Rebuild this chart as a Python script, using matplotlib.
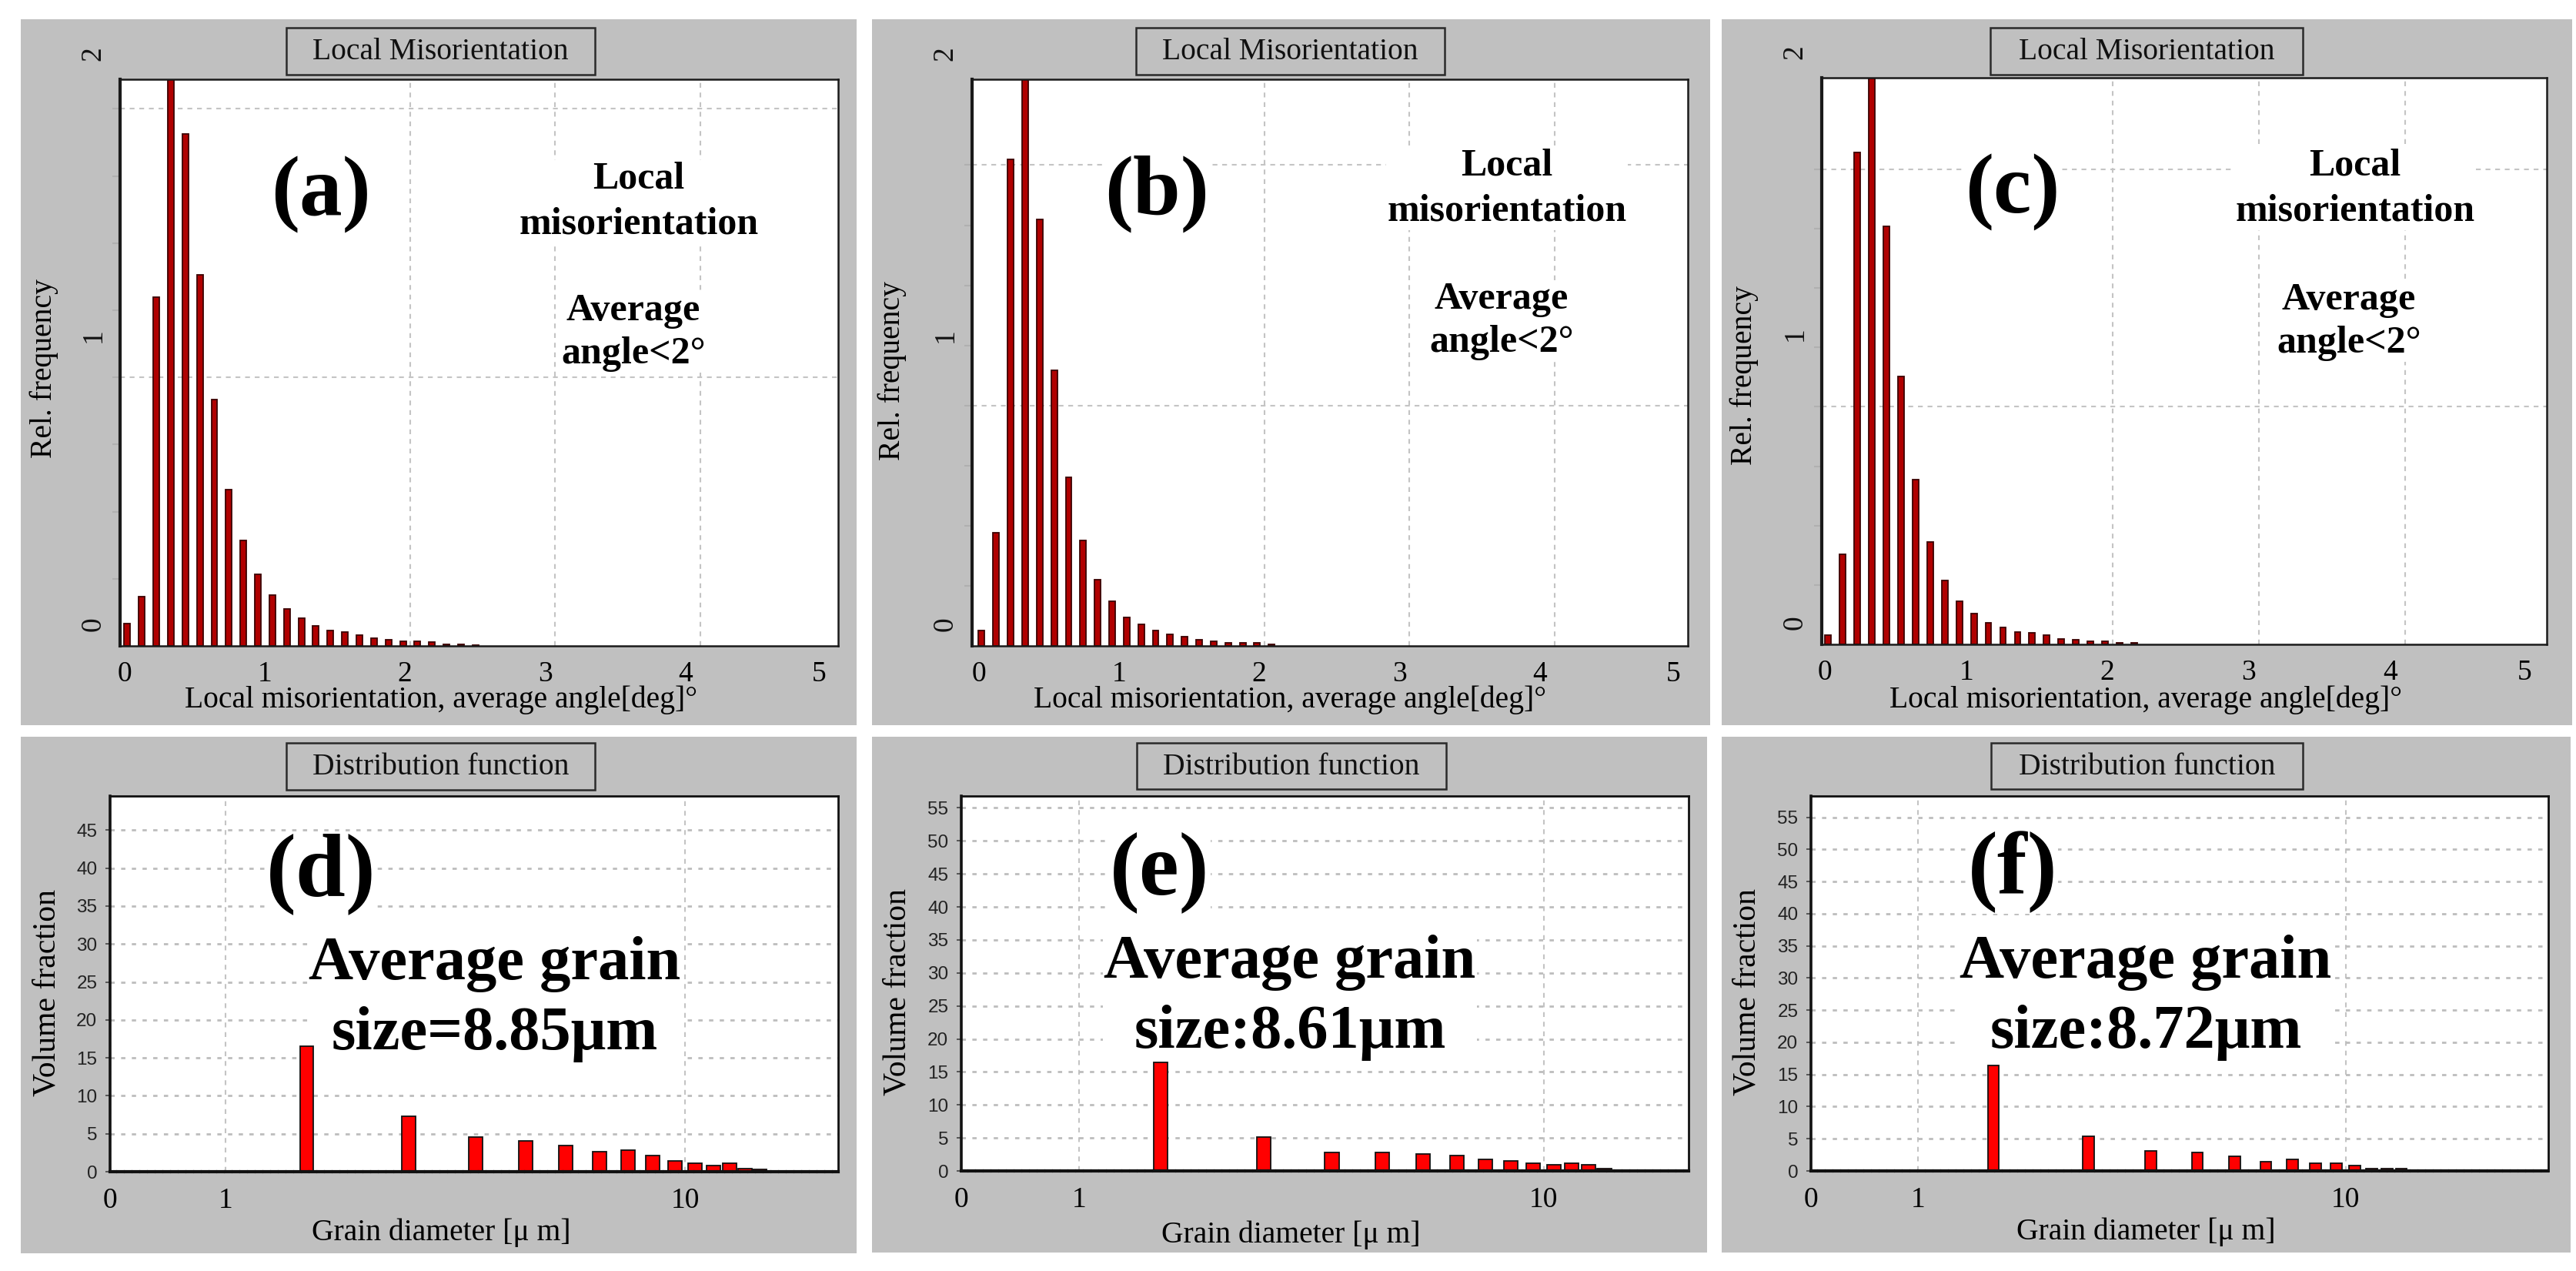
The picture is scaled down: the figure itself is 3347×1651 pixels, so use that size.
import numpy as np
import matplotlib
matplotlib.use("Agg")
import matplotlib.pyplot as plt
from matplotlib.patches import Rectangle
from matplotlib.ticker import FixedLocator, NullLocator

# ---------------- data ----------------
MIS_BINS = [0.05, 0.15, 0.25, 0.35, 0.45, 0.55, 0.65, 0.75, 0.85, 0.95,
            1.05, 1.15, 1.25, 1.35, 1.45, 1.55, 1.65, 1.75, 1.85, 1.95,
            2.05, 2.15, 2.25, 2.35, 2.45]
MIS_A = [0.082, 0.183, 1.30, 2.15, 1.907, 1.383, 0.917, 0.581, 0.393, 0.267,
         0.189, 0.139, 0.103, 0.074, 0.057, 0.053, 0.040, 0.028, 0.023, 0.017,
         0.017, 0.013, 0.006, 0.005, 0.004]
MIS_B = [0.065, 0.471, 2.023, 2.40, 1.775, 1.145, 0.701, 0.438, 0.275, 0.185,
         0.117, 0.090, 0.065, 0.047, 0.039, 0.025, 0.019, 0.014, 0.014, 0.014,
         0.007]
MIS_C = [0.039, 0.380, 2.071, 2.42, 1.760, 1.127, 0.695, 0.430, 0.270, 0.181,
         0.129, 0.091, 0.071, 0.052, 0.047, 0.039, 0.024, 0.019, 0.014, 0.014,
         0.008, 0.008]
MIS_XTICK_LABELS = ["0", "1", "2", "3", "4", "5"]
MIS_YTICK_LABELS = ["0", "1", "2"]
MIS_GRID_X = [1, 2, 3, 4]
MIS_GRID_Y = [1, 2]

DIA_BINS = [1.5, 2.5, 3.5, 4.5, 5.5, 6.5, 7.5, 8.5, 9.5, 10.5, 11.5, 12.5, 13.5, 14.5]
VOL_D = [16.5, 7.27, 4.57, 4.10, 3.40, 2.61, 2.89, 2.14, 1.40, 1.12, 0.84, 1.07, 0.37, 0.28]
VOL_E = [16.4, 5.12, 2.85, 2.85, 2.53, 2.32, 1.74, 1.48, 1.16, 0.90, 1.16, 0.90, 0.37]
VOL_F = [16.4, 5.43, 3.15, 2.88, 2.28, 1.41, 1.74, 1.14, 1.14, 0.87, 0.33, 0.33, 0.33]
VOL_YTICKS_D = [0, 5, 10, 15, 20, 25, 30, 35, 40, 45]
VOL_YTICKS_EF = [0, 5, 10, 15, 20, 25, 30, 35, 40, 45, 50, 55]
DIA_XTICK_LABELS = ["0", "1", "10"]

TOP_LETTERS = ["(a)", "(b)", "(c)"]
BOT_LETTERS = ["(d)", "(e)", "(f)"]
GRAIN_NOTES = ["Average grain\nsize=8.85\u03bcm",
               "Average grain\nsize:8.61\u03bcm",
               "Average grain\nsize:8.72\u03bcm"]

# ---------------- layout (figure pixels) ----------------
W, H, DPI = 3347, 1651, 100
TOP_LAYOUT = [
    dict(panel=(27, 25, 1113, 942), plot=(156, 103, 1089, 839), box=(372, 36, 773, 97),
         xlim=(0.0, 4.95), ymax=2.11, letter=(417, 253), note1=(830, 262), note2=(823, 432),
         ylab=(57, 479), xlab=(573, 909)),
    dict(panel=(1133, 25, 2222, 942), plot=(1263, 103, 2193, 839), box=(1476, 36, 1877, 97),
         xlim=(-0.016, 4.92), ymax=2.357, letter=(1503, 252), note1=(1958, 245), note2=(1951, 417),
         ylab=(1159, 482), xlab=(1676, 909)),
    dict(panel=(2237, 25, 3342, 942), plot=(2367, 101, 3309, 837), box=(2586, 36, 2992, 97),
         xlim=(0.01, 4.97), ymax=2.385, letter=(2615, 250), note1=(3060, 245), note2=(3052, 418),
         ylab=(2266, 488), xlab=(2788, 909)),
]
TOP_XLABEL_POS = [0.03, 1.0, 1.96, 2.93, 3.9, 4.82]
TOP_YLABEL_FRAC = [0.038, 0.548, 1.045]

BOT_LAYOUT = [
    dict(panel=(27, 957, 1113, 1628), plot=(143, 1034, 1089, 1522), box=(372, 965, 773, 1026),
         xlim=(0.56, 21.5), ymax=49.5, bw=0.030, letter=(417, 1135), note=(643, 1298),
         ylab=(61, 1289), xlab=(573, 1601)),
    dict(panel=(1133, 957, 2218, 1627), plot=(1249, 1034, 2194, 1521), box=(1477, 965, 1879, 1025),
         xlim=(0.558, 20.5), ymax=56.8, bw=0.030, letter=(1507, 1133), note=(1676, 1296),
         ylab=(1166, 1288), xlab=(1677, 1604)),
    dict(panel=(2237, 957, 3340, 1627), plot=(2353, 1034, 3311, 1521), box=(2587, 965, 2992, 1025),
         xlim=(0.561, 29.8), ymax=58.3, bw=0.026, letter=(2615, 1133), note=(2788, 1296),
         ylab=(2270, 1288), xlab=(2788, 1600)),
]

PANEL_GRAY = "#c0c0c0"
GRID_GRAY = "#c4c4c4"
SERIF = ["Liberation Serif", "DejaVu Serif"]
SANS = ["Liberation Sans", "DejaVu Sans"]

plt.rcParams["font.family"] = SERIF

fig = plt.figure(figsize=(W / DPI, H / DPI), dpi=DPI, facecolor="white")


def fx(x):
    return x / W


def fy(y):
    return 1 - y / H


def fbox(b):
    x0, y0, x1, y1 = b
    return [x0 / W, 1 - y1 / H, (x1 - x0) / W, (y1 - y0) / H]


def rect(b, z, **kw):
    x0, y0, x1, y1 = b
    r = Rectangle((fx(x0), fy(y1)), (x1 - x0) / W, (y1 - y0) / H,
                  transform=fig.transFigure, zorder=z, **kw)
    fig.add_artist(r)


def axfrac(b, x, y):
    x0, y0, x1, y1 = b
    return (x - x0) / (x1 - x0), (y1 - y) / (y1 - y0)


def panel_frame(L, title):
    rect(L["panel"], -5, facecolor=PANEL_GRAY, edgecolor="none")
    rect(L["box"], -4, facecolor=PANEL_GRAY, edgecolor="#2a2a2a", linewidth=1.8)
    bx0, by0, bx1, by1 = L["box"]
    fig.text(fx((bx0 + bx1) / 2), fy((by0 + by1) / 2 + 1), title, ha="center", va="center",
             fontsize=28.5, color="#111111")


WHITE_BOX = dict(facecolor="white", edgecolor="none", pad=1)


def note(ax, pos, s, **kw):
    # annotation inside the axes: above the grid, below the bars
    ax.text(fx(pos[0]), fy(pos[1]), s, transform=fig.transFigure, ha="center", va="center",
            fontweight="bold", bbox=WHITE_BOX, zorder=1.5, clip_on=False, **kw)


# ---------------- top row: local misorientation ----------------
for L, vals, letter in zip(TOP_LAYOUT, [MIS_A, MIS_B, MIS_C], TOP_LETTERS):
    panel_frame(L, "Local Misorientation")
    ax = fig.add_axes(fbox(L["plot"]))
    ax.set_facecolor("white")
    ax.set_axisbelow(True)
    ax.bar(MIS_BINS[:len(vals)], vals, width=0.042, color="#b00000",
           edgecolor="#3a0000", linewidth=1.3, zorder=2)
    ax.set_xlim(*L["xlim"])
    ax.set_ylim(0, L["ymax"])

    ax.xaxis.set_major_locator(FixedLocator(TOP_XLABEL_POS))
    ax.set_xticklabels(MIS_XTICK_LABELS)
    ax.xaxis.set_minor_locator(FixedLocator(MIS_GRID_X))
    ax.tick_params(axis="x", which="major", length=0, pad=14, labelsize=27)
    ax.tick_params(axis="x", which="minor", length=0)
    ax.grid(which="minor", axis="x", color=GRID_GRAY, linestyle=(0, (3, 3)), linewidth=1.5)

    ax.yaxis.set_major_locator(FixedLocator(MIS_GRID_Y))
    ax.yaxis.set_minor_locator(FixedLocator([0.25, 0.5, 0.75, 1.25, 1.5, 1.75]))
    ax.set_yticklabels([])
    ax.tick_params(axis="y", which="both", length=7, width=1.5, color="#b0b0b0", direction="out")
    ax.grid(which="major", axis="y", color=GRID_GRAY, linestyle=(0, (3, 3)), linewidth=1.5)
    for lab, fr in zip(MIS_YTICK_LABELS, TOP_YLABEL_FRAC):
        ax.text(-0.037, fr, lab, transform=ax.transAxes, rotation=90, ha="center",
                va="center", fontsize=27, color="#111111", clip_on=False)

    for s in ax.spines.values():
        s.set_color("#1a1a1a")
        s.set_linewidth(1.8)
    ax.spines["left"].set_linewidth(3)

    ax.set_ylabel("Rel. frequency", fontsize=28.5, va="center")
    ax.yaxis.set_label_coords(*axfrac(L["plot"], *L["ylab"]))
    ax.set_xlabel("Local misorientation, average angle[deg]\u00b0", fontsize=28.5, va="center")
    ax.xaxis.set_label_coords(*axfrac(L["plot"], *L["xlab"]))

    note(ax, L["letter"], letter, fontsize=80)
    note(ax, L["note1"], "Local\nmisorientation", fontsize=36, linespacing=1.38)
    note(ax, L["note2"], "Average\nangle<2\u00b0", fontsize=36, linespacing=1.27)

# ---------------- bottom row: grain size distribution ----------------
for L, vals, letter, txt, yt in zip(BOT_LAYOUT, [VOL_D, VOL_E, VOL_F], BOT_LETTERS,
                                    GRAIN_NOTES, [VOL_YTICKS_D, VOL_YTICKS_EF, VOL_YTICKS_EF]):
    panel_frame(L, "Distribution function")
    ax = fig.add_axes(fbox(L["plot"]))
    ax.set_facecolor("white")
    ax.set_axisbelow(True)
    ax.set_xscale("log")
    centers = np.array(DIA_BINS[:len(vals)])
    half = 10 ** (L["bw"] / 2)
    ax.bar(centers / half, vals, width=centers * half - centers / half, align="edge",
           color="#ff0000", edgecolor="#111111", linewidth=1.3, zorder=2)
    ax.set_xlim(*L["xlim"])
    ax.set_ylim(0, L["ymax"])

    ax.xaxis.set_major_locator(FixedLocator([L["xlim"][0], 1, 10]))
    ax.xaxis.set_minor_locator(NullLocator())
    ax.set_xticklabels(DIA_XTICK_LABELS)
    ax.tick_params(axis="x", which="major", length=0, pad=15, labelsize=27)
    ax.grid(which="major", axis="x", color=GRID_GRAY, linestyle=(0, (3, 3)), linewidth=1.5)

    ax.yaxis.set_major_locator(FixedLocator(yt))
    ax.set_yticklabels([str(v) for v in yt])
    ax.tick_params(axis="y", which="major", length=4, width=1.2, color="#444444",
                   pad=8, labelsize=17.5)
    for t in ax.get_yticklabels():
        t.set_fontfamily(SANS)
        t.set_color("#222222")
    ax.grid(which="major", axis="y", color="#bdbdbd", linestyle=(0, (2, 3)), linewidth=2)

    for s in ax.spines.values():
        s.set_color("#111111")
        s.set_linewidth(2)
    ax.spines["left"].set_linewidth(2.6)
    ax.spines["bottom"].set_linewidth(3)
    ax.spines["bottom"].set_linestyle((0, (1.7, 0.7)))

    ax.set_ylabel("Volume fraction", fontsize=30, va="center")
    ax.yaxis.set_label_coords(*axfrac(L["plot"], *L["ylab"]))
    ax.set_xlabel("Grain diameter [\u03bc m]", fontsize=28.5, va="center")
    ax.xaxis.set_label_coords(*axfrac(L["plot"], *L["xlab"]))

    note(ax, L["letter"], letter, fontsize=84)
    note(ax, L["note"], txt, fontsize=58, linespacing=1.33)

fig.savefig("out.png", dpi=DPI, facecolor="white")
